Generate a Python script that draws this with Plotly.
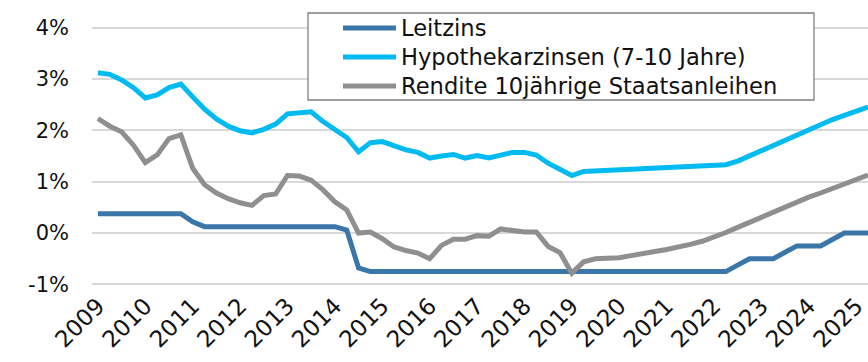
import plotly.graph_objects as go

# Quarterly observations 2009 Q1 .. 2025 Q2 (values in percent)
years = list(range(2009, 2026))
quarters = [f"{y} Q{q}" for y in years for q in range(1, 5)][:66]

leitzins = (
    [0.375] * 8 + [0.22] + [0.125] * 12 + [0.06, -0.68] + [-0.75] * 31
    + [-0.625] + [-0.5] * 3 + [-0.375] + [-0.25] * 3 + [-0.125] + [0.0] * 3
)

hypothekarzinsen = [
    3.12, 3.09, 2.98, 2.83, 2.63, 2.69, 2.83, 2.90, 2.65, 2.41,
    2.22, 2.08, 1.99, 1.95, 2.02, 2.12, 2.32, 2.33, 2.36, 2.17,
    2.01, 1.86, 1.58, 1.76, 1.78, 1.70, 1.62, 1.57, 1.46, 1.50,
    1.53, 1.46, 1.51, 1.46, 1.52, 1.57, 1.57, 1.52, 1.36, 1.23,
    1.12, 1.20, 1.21, 1.22, 1.225, 1.23, 1.24, 1.25, 1.26, 1.27,
    1.28, 1.29, 1.31, 1.33, 1.40, 1.50, 1.60, 1.70, 1.80, 1.91,
    2.02, 2.12, 2.21, 2.29, 2.37, 2.45,
]

rendite = [
    2.23, 2.08, 1.97, 1.71, 1.37, 1.52, 1.84, 1.91, 1.26, 0.94,
    0.78, 0.67, 0.59, 0.54, 0.73, 0.76, 1.12, 1.11, 1.03, 0.84,
    0.61, 0.45, 0.00, 0.02, -0.11, -0.27, -0.34, -0.39, -0.50, -0.24,
    -0.12, -0.12, -0.05, -0.06, 0.08, 0.05, 0.02, 0.02, -0.26, -0.38,
    -0.78, -0.56, -0.50, -0.49, -0.48, -0.44, -0.39, -0.36, -0.32, -0.28,
    -0.22, -0.16, -0.08, 0.01, 0.11, 0.21, 0.31, 0.41, 0.51, 0.61,
    0.70, 0.78, 0.87, 0.95, 1.04, 1.13,
]

series_names = ["Leitzins", "Hypothekarzinsen (7-10 Jahre)", "Rendite 10jährige Staatsanleihen"]
series_values = [leitzins, hypothekarzinsen, rendite]
series_colors = ["#3A76A8", "#00BAF2", "#8F8F8F"]

year_labels = [str(y) for y in years]
year_ticks = [f"{y} Q1" for y in years]
y_ticks = [-1, 0, 1, 2, 3, 4]
y_ticktext = ["-1%", "0%", "1%", "2%", "3%", "4%"]

FONT = "DejaVu Sans"
W, H = 868, 362
ML, MR, MT, MB = 92, 0, 25, 75
Y_RANGE = [-1.05, 4.05]
X_RANGE = [-0.5, 65.0]

fig = go.Figure()
for name, vals, col in zip(series_names, series_values, series_colors):
    fig.add_trace(go.Scatter(
        x=quarters, y=vals, name=name, mode="lines",
        line=dict(color=col, width=5), showlegend=False,
    ))

fig.update_layout(
    width=W, height=H,
    margin=dict(l=ML, r=MR, t=MT, b=MB, pad=0),
    paper_bgcolor="white", plot_bgcolor="white",
    font=dict(family=FONT, size=21, color="#111111"),
    xaxis=dict(
        type="category", range=X_RANGE, automargin=False,
        tickvals=year_ticks, ticktext=year_labels,
        tickangle=-45, ticks="", showgrid=False, showline=False,
        zeroline=False, tickfont=dict(size=23),
        ticklabelstandoff=0,
    ),
    # axis line with tick marks sitting on the zero level
    xaxis2=dict(
        overlaying="x", anchor="free", automargin=False,
        position=(0 - Y_RANGE[0]) / (Y_RANGE[1] - Y_RANGE[0]),
        range=X_RANGE, type="linear",
        tick0=-0.5, dtick=3, ticks="outside", ticklen=7,
        tickwidth=1.5, tickcolor="#8C8C8C",
        showline=True, linecolor="#8C8C8C", linewidth=1.5,
        showticklabels=False, showgrid=False, zeroline=False,
        layer="below traces",
    ),
    yaxis=dict(
        range=Y_RANGE, tickvals=y_ticks, ticktext=y_ticktext,
        automargin=False,
        showgrid=True, gridcolor="#D9D9D9", gridwidth=1.5,
        zeroline=False, showline=False, ticks="",
        ticklabelstandoff=22,
    ),
)

# Legend box drawn on the canvas
plot_w = W - ML - MR
plot_h = H - MT - MB


def px_x(px):
    return (px - ML) / plot_w


def px_y(py):
    return (H - MB - py) / plot_h


fig.add_shape(type="rect", xref="paper", yref="paper",
              x0=px_x(308), x1=px_x(814), y0=px_y(100), y1=px_y(13),
              line=dict(color="#808080", width=1.3), fillcolor="white",
              layer="above")
row_y = [28, 57, 86]
for name, col, ry in zip(series_names, series_colors, row_y):
    fig.add_shape(type="line", xref="paper", yref="paper",
                  x0=px_x(343), x1=px_x(396), y0=px_y(ry), y1=px_y(ry),
                  line=dict(color=col, width=5), layer="above")
    fig.add_annotation(xref="paper", yref="paper", x=px_x(399), y=px_y(ry),
                       text=name, showarrow=False, xanchor="left",
                       yanchor="middle", font=dict(size=22.6, color="#111111"))

fig.write_html("out.html")
